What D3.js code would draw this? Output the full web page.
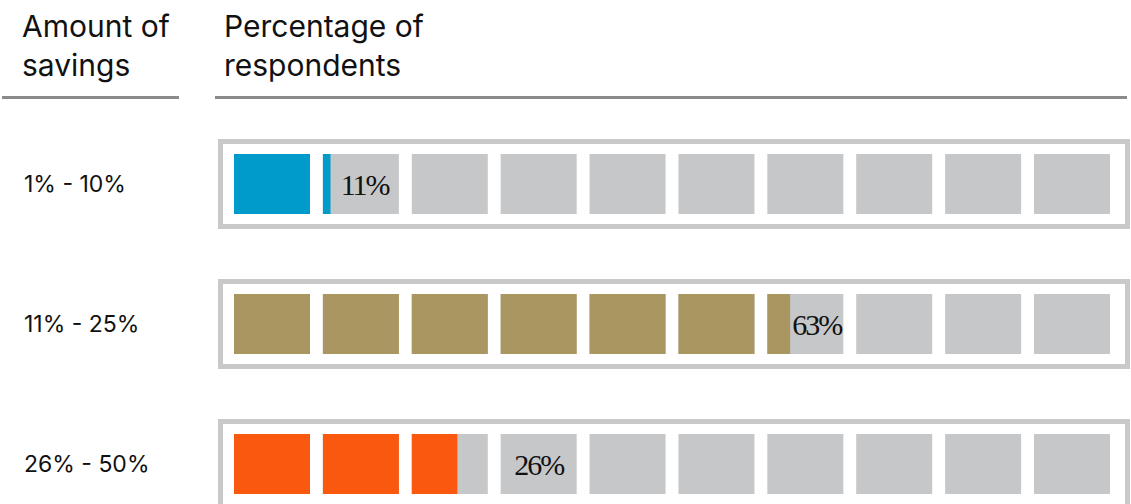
<!DOCTYPE html>
<html>
<head>
<meta charset="utf-8">
<script src="https://cdn.jsdelivr.net/npm/d3@7"></script>
<style>
  body { margin: 0; background: #fff; }
  svg { display: block; }
</style>
</head>
<body>
<svg id="viz_area" width="1131" height="504"></svg>
<script>
const categories = ['1% - 10%', '11% - 25%', '26% - 50%']
const values = [11, 63, 26]
const colors = ['#009ACB', '#A99660', '#FA570F']
const squares = d3.range(10)

const svg = d3.select('#viz_area')

// headers
const headers = [
  { x: 22, lines: ['Amount of', 'savings'], x1: 2, x2: 179 },
  { x: 224, lines: ['Percentage of', 'respondents'], x1: 215, x2: 1127 }
]

headers.forEach(function (h) {
  const t = svg.append('text')
    .attr('x', h.x)
    .attr('y', 37)
    .attr('font-family', 'Inter, sans-serif')
    .attr('font-size', 30)
    .attr('fill', '#111')
  h.lines.forEach(function (l, i) {
    t.append('tspan').attr('x', h.x).attr('dy', i === 0 ? 0 : 39).text(l)
  })
  svg.append('line')
    .attr('x1', h.x1).attr('x2', h.x2)
    .attr('y1', 97.5).attr('y2', 97.5)
    .attr('stroke', '#8a8a8a')
    .attr('stroke-width', 3)
})

const yScale = d3.scaleBand()
  .domain(categories)
  .range([139, 509])
  .paddingInner(50 / 140)

const xScale = d3.scaleBand()
  .domain(squares)
  .range([234, 1110])
  .paddingInner(0.145)

const bw = xScale.bandwidth()

const rows = svg.selectAll('g.row')
  .data(categories)
  .enter()
  .append('g')
  .attr('class', 'row')
  .attr('transform', function (d) { return 'translate(0,' + yScale(d) + ')' })

rows.append('text')
  .attr('x', 24)
  .attr('y', yScale.bandwidth() / 2)
  .attr('dy', '0.36em')
  .attr('font-family', 'Inter, sans-serif')
  .attr('font-size', 23)
  .attr('fill', '#111')
  .text(function (d) { return d })

rows.append('rect')
  .attr('x', 220.5)
  .attr('y', 2.5)
  .attr('width', 907)
  .attr('height', yScale.bandwidth() - 5)
  .attr('fill', 'none')
  .attr('stroke', '#c9c9c9')
  .attr('stroke-width', 5)

rows.each(function (cat, r) {
  const g = d3.select(this)
  const v = values[r]
  g.selectAll('rect.bg')
    .data(squares)
    .enter()
    .append('rect')
    .attr('class', 'bg')
    .attr('x', function (i) { return xScale(i) })
    .attr('y', 15)
    .attr('width', bw)
    .attr('height', 60)
    .attr('fill', '#C6C7C9')

  g.selectAll('rect.fill')
    .data(squares.filter(function (i) { return v / 10 - i > 0 }))
    .enter()
    .append('rect')
    .attr('class', 'fill')
    .attr('x', function (i) { return xScale(i) })
    .attr('y', 15)
    .attr('width', function (i) { return Math.min(1, v / 10 - i) * bw })
    .attr('height', 60)
    .attr('fill', colors[r])

  // label goes in the gray part of the partly filled square, or the next one
  const idx = Math.floor(v / 10)
  const fillEnd = xScale(idx) + (v / 10 - idx) * bw
  const squareEnd = xScale(idx) + bw
  const cx = (squareEnd - fillEnd >= bw / 2)
    ? (fillEnd + squareEnd) / 2
    : xScale(idx + 1) + bw / 2

  g.append('text')
    .attr('x', cx)
    .attr('y', 45)
    .attr('dy', '0.35em')
    .attr('font-family', '"Liberation Serif", serif')
    .attr('font-size', 30)
    .attr('letter-spacing', -2)
    .attr('fill', '#111')
    .attr('text-anchor', 'middle')
    .text(v + '%')
})
</script>
</body>
</html>
